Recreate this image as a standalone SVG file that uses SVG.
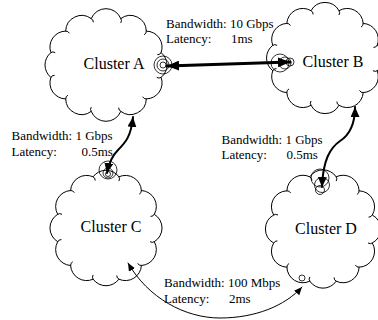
<svg xmlns="http://www.w3.org/2000/svg" width="378" height="320" viewBox="0 0 378 320">
  <style>
    .cloud { fill: #ffffff; stroke: #000000; stroke-width: 1; stroke-linejoin: round; }
    .hook { fill: none; stroke: #000000; stroke-width: 1; stroke-linecap: round; }
    .name { font-family: "Liberation Serif", "Times New Roman", serif; font-size: 16px; fill: #000000; text-anchor: middle; }
    .lbl { font-family: "Liberation Serif", "Times New Roman", serif; font-size: 13px; fill: #000000; }
    .link { fill: none; stroke: #000000; stroke-linecap: round; }
    .ring { fill: none; stroke: #000000; stroke-width: 0.8; }
  </style>
  <defs>
    <marker id="headBig" markerUnits="userSpaceOnUse" markerWidth="14" markerHeight="10" refX="12" refY="5" orient="auto-start-reverse">
      <path d="M0,0 L12,5 L0,10 z" fill="#000000"/>
    </marker>
    <marker id="headMid" markerUnits="userSpaceOnUse" markerWidth="12" markerHeight="10" refX="10" refY="4.5" orient="auto-start-reverse">
      <path d="M0,0 L10,4.5 L0,9 z" fill="#000000"/>
    </marker>
    <marker id="headSmall" markerUnits="userSpaceOnUse" markerWidth="10" markerHeight="8" refX="8" refY="3.5" orient="auto-start-reverse">
      <path d="M0,0 L8,3.5 L0,7 z" fill="#000000"/>
    </marker>
  </defs>
  <rect width="378" height="320" fill="#ffffff"/>

  <!-- each cloud: twelve outward arcs around an ellipse, with small curls at the cusps -->
  <g id="cluster-a">
    <path class="cloud" d="M161.1,77.4 A16,16 0 0 1 146.3,98.9 A16,16 0 0 1 120.8,111.4 A16,16 0 0 1 91.2,111.4 A16,16 0 0 1 65.7,98.9 A16,16 0 0 1 50.9,77.4 A16,16 0 0 1 50.9,52.6 A16,16 0 0 1 65.7,31.1 A16,16 0 0 1 91.2,18.6 A16,16 0 0 1 120.8,18.6 A16,16 0 0 1 146.3,31.1 A16,16 0 0 1 161.1,52.6 A16,16 0 0 1 161.1,77.4 Z"/>
    <path class="hook" d="M161.1,77.4 q-1.97,1.54 -3.98,0.18 M146.3,98.9 q-2.47,0.35 -3.54,-1.84 M120.8,111.4 q-2.32,-0.93 -2.14,-3.36 M91.2,111.4 q-1.54,-1.97 -0.18,-3.98 M65.7,98.9 q-0.35,-2.47 1.84,-3.54 M50.9,77.4 q0.93,-2.32 3.36,-2.14 M50.9,52.6 q1.97,-1.54 3.98,-0.18 M65.7,31.1 q2.47,-0.35 3.54,1.84 M91.2,18.6 q2.32,0.93 2.14,3.36 M120.8,18.6 q1.54,1.97 0.18,3.98 M146.3,31.1 q0.35,2.47 -1.84,3.54 M161.1,52.6 q-0.93,2.32 -3.36,2.14"/>
    <text class="name" x="114" y="69">Cluster A</text>
  </g>

  <g id="cluster-b">
    <path class="cloud" d="M377.2,70.7 A16,16 0 0 1 363.2,92.6 A16,16 0 0 1 339,105.3 A16,16 0 0 1 311,105.3 A16,16 0 0 1 286.8,92.6 A16,16 0 0 1 272.8,70.7 A16,16 0 0 1 272.8,45.3 A16,16 0 0 1 286.8,23.4 A16,16 0 0 1 311,10.7 A16,16 0 0 1 339,10.7 A16,16 0 0 1 363.2,23.4 A16,16 0 0 1 377.2,45.3 A16,16 0 0 1 377.2,70.7 Z"/>
    <path class="hook" d="M377.2,70.7 q-1.97,1.54 -3.98,0.18 M363.2,92.6 q-2.47,0.35 -3.54,-1.84 M339,105.3 q-2.32,-0.93 -2.14,-3.36 M311,105.3 q-1.54,-1.97 -0.18,-3.98 M286.8,92.6 q-0.35,-2.47 1.84,-3.54 M272.8,70.7 q0.93,-2.32 3.36,-2.14 M272.8,45.3 q1.97,-1.54 3.98,-0.18 M286.8,23.4 q2.47,-0.35 3.54,1.84 M311,10.7 q2.32,0.93 2.14,3.36 M339,10.7 q1.54,1.97 0.18,3.98 M363.2,23.4 q0.35,2.47 -1.84,3.54 M377.2,45.3 q-0.93,2.32 -3.36,2.14"/>
    <text class="name" x="333" y="67">Cluster B</text>
  </g>

  <g id="cluster-c">
    <path class="cloud" d="M154.3,241.7 A16,16 0 0 1 141.4,265.5 A16,16 0 0 1 118.9,279.2 A16,16 0 0 1 93.1,279.2 A16,16 0 0 1 70.6,265.5 A16,16 0 0 1 57.7,241.7 A16,16 0 0 1 57.7,214.3 A16,16 0 0 1 70.6,190.5 A16,16 0 0 1 93.1,176.8 A16,16 0 0 1 118.9,176.8 A16,16 0 0 1 141.4,190.5 A16,16 0 0 1 154.3,214.3 A16,16 0 0 1 154.3,241.7 Z"/>
    <path class="hook" d="M154.3,241.7 q-1.97,1.54 -3.98,0.18 M141.4,265.5 q-2.47,0.35 -3.54,-1.84 M118.9,279.2 q-2.32,-0.93 -2.14,-3.36 M93.1,279.2 q-1.54,-1.97 -0.18,-3.98 M70.6,265.5 q-0.35,-2.47 1.84,-3.54 M57.7,241.7 q0.93,-2.32 3.36,-2.14 M57.7,214.3 q1.97,-1.54 3.98,-0.18 M70.6,190.5 q2.47,-0.35 3.54,1.84 M93.1,176.8 q2.32,0.93 2.14,3.36 M118.9,176.8 q1.54,1.97 0.18,3.98 M141.4,190.5 q0.35,2.47 -1.84,3.54 M154.3,214.3 q-0.93,2.32 -3.36,2.14"/>
    <text class="name" x="111" y="232">Cluster C</text>
  </g>

  <g id="cluster-d">
    <path class="cloud" d="M372.3,243 A16,16 0 0 1 359.1,267.2 A16,16 0 0 1 336.2,281.2 A16,16 0 0 1 309.8,281.2 A16,16 0 0 1 286.9,267.2 A16,16 0 0 1 273.7,243 A16,16 0 0 1 273.7,215 A16,16 0 0 1 286.9,190.8 A16,16 0 0 1 309.8,176.8 A16,16 0 0 1 336.2,176.8 A16,16 0 0 1 359.1,190.8 A16,16 0 0 1 372.3,215 A16,16 0 0 1 372.3,243 Z"/>
    <path class="hook" d="M372.3,243 q-1.97,1.54 -3.98,0.18 M359.1,267.2 q-2.47,0.35 -3.54,-1.84 M336.2,281.2 q-2.32,-0.93 -2.14,-3.36 M309.8,281.2 q-1.54,-1.97 -0.18,-3.98 M286.9,267.2 q-0.35,-2.47 1.84,-3.54 M273.7,243 q0.93,-2.32 3.36,-2.14 M273.7,215 q1.97,-1.54 3.98,-0.18 M286.9,190.8 q2.47,-0.35 3.54,1.84 M309.8,176.8 q2.32,0.93 2.14,3.36 M336.2,176.8 q1.54,1.97 0.18,3.98 M359.1,190.8 q0.35,2.47 -1.84,3.54 M372.3,215 q-0.93,2.32 -3.36,2.14"/>
    <text class="name" x="326" y="234">Cluster D</text>
  </g>

  <g id="connectors">
    <!-- A to B -->
    <path class="link" stroke-width="3" d="M167,66 L290,62" marker-start="url(#headBig)" marker-end="url(#headBig)"/>
    <circle class="ring" cx="163" cy="65" r="9"/>
    <circle class="ring" cx="163" cy="65" r="6"/>
    <circle class="ring" cx="163" cy="65" r="3"/>
    <circle class="ring" cx="280" cy="63" r="9"/>
    <circle class="ring" cx="285" cy="63" r="6"/>
    <circle class="ring" cx="290" cy="62" r="4"/>
    <!-- A to C -->
    <path class="link" stroke-width="2" d="M107,173 C109,162 112,156 118,150 C126,142 131,136 133,117" marker-start="url(#headMid)" marker-end="url(#headMid)"/>
    <circle class="ring" cx="108" cy="170" r="9"/>
    <circle class="ring" cx="108" cy="173" r="5"/>
    <circle class="ring" cx="108" cy="174" r="2.5"/>
    <!-- B to D -->
    <path class="link" stroke-width="2" d="M355,107 C355,122 351,134 340,141 C330,148 323,160 322,187" marker-start="url(#headMid)" marker-end="url(#headMid)"/>
    <circle class="ring" cx="320" cy="178" r="9"/>
    <circle class="ring" cx="322" cy="185" r="7.5"/>
    <circle class="ring" cx="320" cy="190" r="4.5"/>
    <!-- C to D -->
    <path class="link" stroke-width="1" d="M128,263 C148,298 185,318 220,318 C255,318 285,306 302,287" marker-start="url(#headSmall)" marker-end="url(#headSmall)"/>
    <circle class="ring" cx="302" cy="278" r="3"/>
  </g>

  <g id="labels">
    <text class="lbl" x="166" y="27.5">Bandwidth: 10 Gbps</text>
    <text class="lbl" x="166" y="42.5">Latency:</text>
    <text class="lbl" x="231" y="42.5">1ms</text>

    <text class="lbl" x="11.5" y="140">Bandwidth: 1 Gbps</text>
    <text class="lbl" x="11.5" y="155.5">Latency:</text>
    <text class="lbl" x="81.5" y="155.5">0.5ms</text>

    <text class="lbl" x="221.5" y="144">Bandwidth: 1 Gbps</text>
    <text class="lbl" x="221.5" y="159">Latency:</text>
    <text class="lbl" x="286.5" y="159">0.5ms</text>

    <text class="lbl" x="164" y="287">Bandwidth: 100 Mbps</text>
    <text class="lbl" x="164" y="303">Latency:</text>
    <text class="lbl" x="229" y="303">2ms</text>
  </g>
</svg>
